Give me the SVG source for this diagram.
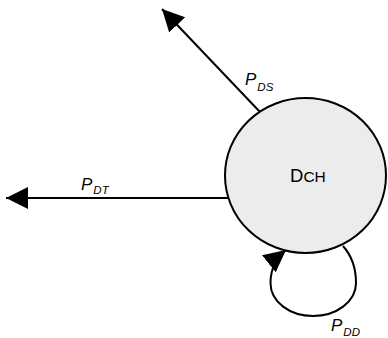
<svg xmlns="http://www.w3.org/2000/svg" width="388" height="338" viewBox="0 0 388 338">
<style>
.edge{fill:none;stroke:#000;stroke-width:2}
.node{fill:#ececec;stroke:#000;stroke-width:2}
.lbl{font-family:"Liberation Sans",Arial,sans-serif;font-style:italic;fill:#000}
.p{font-size:17px}
.sub{font-size:11.5px}
.nt{font-family:"Liberation Sans",Arial,sans-serif;fill:#000}
</style>
<defs>
<marker id="ah" markerUnits="userSpaceOnUse" markerWidth="24" markerHeight="24" refX="22" refY="11" orient="auto" viewBox="0 0 24 24">
<path d="M0,0 L22,11 L0,22 z" fill="#000"/>
</marker>
</defs>
<g id="connectors">
<line class="edge" x1="260" y1="112" x2="162" y2="9" marker-end="url(#ah)"/>
<line class="edge" x1="230" y1="198" x2="6" y2="198" marker-end="url(#ah)"/>
<path class="edge" d="M343 246 C352 256,356 268,356 283 C356 302,336 316,313 316 C290 316,270.5 302,270.5 283 C270.5 270,276 258,286 250" marker-end="url(#ah)"/>
</g>
<g id="node-DCH">
<ellipse class="node" cx="305.5" cy="175.5" rx="80.5" ry="77.5"/>
<text class="nt" x="290" y="181.5" font-size="18.5">D<tspan font-size="15.5">CH</tspan></text>
</g>
<g id="labels">
<text class="lbl" x="245" y="85"><tspan class="p">P</tspan><tspan class="sub" dx="1" dy="6">DS</tspan></text>
<text class="lbl" x="81" y="189.5"><tspan class="p">P</tspan><tspan class="sub" dx="1" dy="4">DT</tspan></text>
<text class="lbl" x="331" y="330.5"><tspan class="p">P</tspan><tspan class="sub" dx="1" dy="5.5">DD</tspan></text>
</g>
</svg>
